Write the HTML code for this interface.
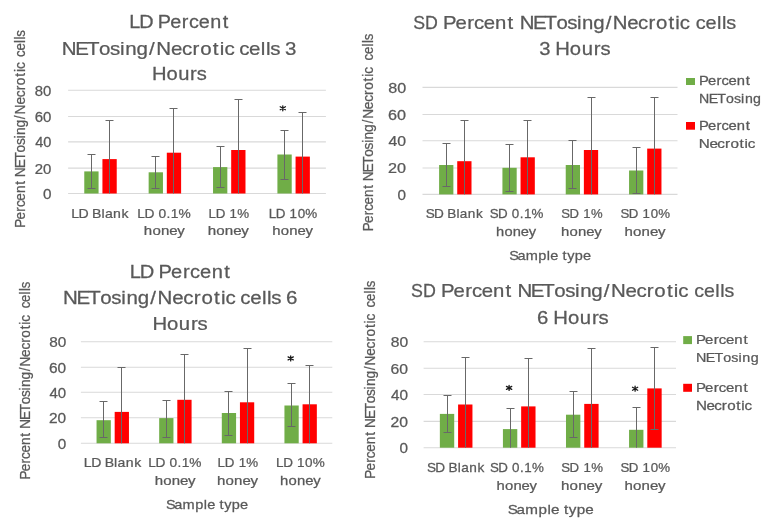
<!DOCTYPE html>
<html><head><meta charset="utf-8"><style>
html,body{margin:0;padding:0;background:#fff;}
body{width:772px;height:528px;overflow:hidden;}
svg{display:block;filter:blur(0.4px);font-family:"Liberation Sans",sans-serif;font-kerning:none;}
</style></head><body>
<svg width="772" height="528" viewBox="0 0 772 528">
<style>text{stroke:#595959;stroke-width:0.25px;}</style>
<rect width="772" height="528" fill="#fff"/>
<line x1="68.10" y1="90.30" x2="325.90" y2="90.30" stroke="#d9d9d9" stroke-width="1.1"/>
<line x1="68.10" y1="116.50" x2="325.90" y2="116.50" stroke="#d9d9d9" stroke-width="1.1"/>
<line x1="68.10" y1="141.90" x2="325.90" y2="141.90" stroke="#d9d9d9" stroke-width="1.1"/>
<line x1="68.10" y1="168.10" x2="325.90" y2="168.10" stroke="#d9d9d9" stroke-width="1.1"/>
<line x1="68.10" y1="193.50" x2="325.90" y2="193.50" stroke="#d9d9d9" stroke-width="1.1"/>
<text transform="translate(34.85 95.70) scale(1.0766 1)" x="0.00 7.67" y="0" font-size="13.8" fill="#595959">80</text>
<text transform="translate(34.74 121.90) scale(1.0843 1)" x="0.00 7.67" y="0" font-size="13.8" fill="#595959">60</text>
<text transform="translate(35.17 147.30) scale(1.0556 1)" x="0.00 7.67" y="0" font-size="13.8" fill="#595959">40</text>
<text transform="translate(34.75 173.50) scale(1.0838 1)" x="0.00 7.67" y="0" font-size="13.8" fill="#595959">20</text>
<text transform="translate(42.90 198.90) scale(1.1066 1)" x="0.00" y="0" font-size="13.8" fill="#595959">0</text>
<rect x="84.27" y="171.40" width="14.30" height="22.10" fill="#70ad47"/>
<rect x="102.43" y="159.10" width="14.30" height="34.40" fill="#ff0000"/>
<line x1="91.50" y1="154.50" x2="91.50" y2="188.80" stroke="#686868" stroke-width="1.0"/>
<line x1="87.50" y1="154.50" x2="95.50" y2="154.50" stroke="#686868" stroke-width="1.0"/>
<line x1="87.50" y1="188.50" x2="95.50" y2="188.50" stroke="#686868" stroke-width="1.0"/>
<line x1="109.50" y1="120.50" x2="109.50" y2="193.50" stroke="#686868" stroke-width="1.0"/>
<line x1="105.50" y1="120.50" x2="113.50" y2="120.50" stroke="#686868" stroke-width="1.0"/>
<rect x="148.65" y="172.30" width="14.30" height="21.20" fill="#70ad47"/>
<rect x="166.81" y="152.70" width="14.30" height="40.80" fill="#ff0000"/>
<line x1="155.50" y1="156.50" x2="155.50" y2="188.30" stroke="#686868" stroke-width="1.0"/>
<line x1="151.50" y1="156.50" x2="159.50" y2="156.50" stroke="#686868" stroke-width="1.0"/>
<line x1="151.50" y1="188.50" x2="159.50" y2="188.50" stroke="#686868" stroke-width="1.0"/>
<line x1="173.50" y1="108.50" x2="173.50" y2="193.50" stroke="#686868" stroke-width="1.0"/>
<line x1="169.50" y1="108.50" x2="177.50" y2="108.50" stroke="#686868" stroke-width="1.0"/>
<rect x="213.03" y="167.10" width="14.30" height="26.40" fill="#70ad47"/>
<rect x="231.19" y="150.00" width="14.30" height="43.50" fill="#ff0000"/>
<line x1="220.50" y1="146.50" x2="220.50" y2="187.90" stroke="#686868" stroke-width="1.0"/>
<line x1="216.50" y1="146.50" x2="224.50" y2="146.50" stroke="#686868" stroke-width="1.0"/>
<line x1="216.50" y1="187.50" x2="224.50" y2="187.50" stroke="#686868" stroke-width="1.0"/>
<line x1="238.50" y1="99.50" x2="238.50" y2="193.50" stroke="#686868" stroke-width="1.0"/>
<line x1="234.50" y1="99.50" x2="242.50" y2="99.50" stroke="#686868" stroke-width="1.0"/>
<rect x="277.41" y="154.50" width="14.30" height="39.00" fill="#70ad47"/>
<rect x="295.57" y="156.60" width="14.30" height="36.90" fill="#ff0000"/>
<line x1="284.50" y1="130.50" x2="284.50" y2="179.30" stroke="#686868" stroke-width="1.0"/>
<line x1="280.50" y1="130.50" x2="288.50" y2="130.50" stroke="#686868" stroke-width="1.0"/>
<line x1="280.50" y1="179.50" x2="288.50" y2="179.50" stroke="#686868" stroke-width="1.0"/>
<line x1="302.50" y1="112.50" x2="302.50" y2="193.50" stroke="#686868" stroke-width="1.0"/>
<line x1="298.50" y1="112.50" x2="306.50" y2="112.50" stroke="#686868" stroke-width="1.0"/>
<line x1="422.50" y1="87.35" x2="677.50" y2="87.35" stroke="#d9d9d9" stroke-width="1.1"/>
<line x1="422.50" y1="114.50" x2="677.50" y2="114.50" stroke="#d9d9d9" stroke-width="1.1"/>
<line x1="422.50" y1="140.80" x2="677.50" y2="140.80" stroke="#d9d9d9" stroke-width="1.1"/>
<line x1="422.50" y1="168.00" x2="677.50" y2="168.00" stroke="#d9d9d9" stroke-width="1.1"/>
<line x1="422.50" y1="194.40" x2="677.50" y2="194.40" stroke="#d9d9d9" stroke-width="1.1"/>
<text transform="translate(388.20 92.75) scale(1.1681 1)" x="0.00 7.67" y="0" font-size="13.8" fill="#595959">80</text>
<text transform="translate(388.08 119.90) scale(1.1765 1)" x="0.00 7.67" y="0" font-size="13.8" fill="#595959">60</text>
<text transform="translate(388.54 146.20) scale(1.1453 1)" x="0.00 7.67" y="0" font-size="13.8" fill="#595959">40</text>
<text transform="translate(388.08 173.40) scale(1.1759 1)" x="0.00 7.67" y="0" font-size="13.8" fill="#595959">20</text>
<text transform="translate(397.60 199.80) scale(1.1066 1)" x="0.00" y="0" font-size="13.8" fill="#595959">0</text>
<rect x="439.10" y="165.00" width="14.27" height="29.40" fill="#70ad47"/>
<rect x="457.23" y="161.20" width="14.27" height="33.20" fill="#ff0000"/>
<line x1="446.50" y1="143.50" x2="446.50" y2="186.20" stroke="#686868" stroke-width="1.0"/>
<line x1="442.50" y1="143.50" x2="450.50" y2="143.50" stroke="#686868" stroke-width="1.0"/>
<line x1="442.50" y1="186.50" x2="450.50" y2="186.50" stroke="#686868" stroke-width="1.0"/>
<line x1="464.50" y1="120.50" x2="464.50" y2="194.40" stroke="#686868" stroke-width="1.0"/>
<line x1="460.50" y1="120.50" x2="468.50" y2="120.50" stroke="#686868" stroke-width="1.0"/>
<rect x="502.42" y="167.80" width="14.27" height="26.60" fill="#70ad47"/>
<rect x="520.55" y="157.30" width="14.27" height="37.10" fill="#ff0000"/>
<line x1="509.50" y1="144.50" x2="509.50" y2="191.70" stroke="#686868" stroke-width="1.0"/>
<line x1="505.50" y1="144.50" x2="513.50" y2="144.50" stroke="#686868" stroke-width="1.0"/>
<line x1="505.50" y1="191.50" x2="513.50" y2="191.50" stroke="#686868" stroke-width="1.0"/>
<line x1="527.50" y1="120.50" x2="527.50" y2="194.40" stroke="#686868" stroke-width="1.0"/>
<line x1="523.50" y1="120.50" x2="531.50" y2="120.50" stroke="#686868" stroke-width="1.0"/>
<rect x="565.74" y="165.00" width="14.27" height="29.40" fill="#70ad47"/>
<rect x="583.87" y="150.00" width="14.27" height="44.40" fill="#ff0000"/>
<line x1="572.50" y1="140.50" x2="572.50" y2="188.40" stroke="#686868" stroke-width="1.0"/>
<line x1="568.50" y1="140.50" x2="576.50" y2="140.50" stroke="#686868" stroke-width="1.0"/>
<line x1="568.50" y1="188.50" x2="576.50" y2="188.50" stroke="#686868" stroke-width="1.0"/>
<line x1="591.50" y1="97.50" x2="591.50" y2="194.40" stroke="#686868" stroke-width="1.0"/>
<line x1="587.50" y1="97.50" x2="595.50" y2="97.50" stroke="#686868" stroke-width="1.0"/>
<rect x="629.06" y="170.50" width="14.27" height="23.90" fill="#70ad47"/>
<rect x="647.19" y="148.60" width="14.27" height="45.80" fill="#ff0000"/>
<line x1="636.50" y1="147.50" x2="636.50" y2="193.50" stroke="#686868" stroke-width="1.0"/>
<line x1="632.50" y1="147.50" x2="640.50" y2="147.50" stroke="#686868" stroke-width="1.0"/>
<line x1="632.50" y1="193.50" x2="640.50" y2="193.50" stroke="#686868" stroke-width="1.0"/>
<line x1="654.50" y1="97.50" x2="654.50" y2="194.40" stroke="#686868" stroke-width="1.0"/>
<line x1="650.50" y1="97.50" x2="658.50" y2="97.50" stroke="#686868" stroke-width="1.0"/>
<line x1="80.90" y1="341.80" x2="332.30" y2="341.80" stroke="#d9d9d9" stroke-width="1.1"/>
<line x1="80.90" y1="367.20" x2="332.30" y2="367.20" stroke="#d9d9d9" stroke-width="1.1"/>
<line x1="80.90" y1="392.30" x2="332.30" y2="392.30" stroke="#d9d9d9" stroke-width="1.1"/>
<line x1="80.90" y1="417.80" x2="332.30" y2="417.80" stroke="#d9d9d9" stroke-width="1.1"/>
<line x1="80.90" y1="443.30" x2="332.30" y2="443.30" stroke="#d9d9d9" stroke-width="1.1"/>
<text transform="translate(49.13 347.20) scale(1.1118 1)" x="0.00 7.67" y="0" font-size="13.8" fill="#595959">80</text>
<text transform="translate(49.02 372.60) scale(1.1198 1)" x="0.00 7.67" y="0" font-size="13.8" fill="#595959">60</text>
<text transform="translate(49.45 397.70) scale(1.0901 1)" x="0.00 7.67" y="0" font-size="13.8" fill="#595959">40</text>
<text transform="translate(49.02 423.20) scale(1.1192 1)" x="0.00 7.67" y="0" font-size="13.8" fill="#595959">20</text>
<text transform="translate(57.70 448.70) scale(1.1066 1)" x="0.00" y="0" font-size="13.8" fill="#595959">0</text>
<rect x="96.55" y="420.20" width="14.27" height="23.10" fill="#70ad47"/>
<rect x="114.68" y="411.90" width="14.27" height="31.40" fill="#ff0000"/>
<line x1="103.50" y1="401.50" x2="103.50" y2="437.30" stroke="#686868" stroke-width="1.0"/>
<line x1="99.50" y1="401.50" x2="107.50" y2="401.50" stroke="#686868" stroke-width="1.0"/>
<line x1="99.50" y1="437.50" x2="107.50" y2="437.50" stroke="#686868" stroke-width="1.0"/>
<line x1="121.50" y1="367.50" x2="121.50" y2="443.30" stroke="#686868" stroke-width="1.0"/>
<line x1="117.50" y1="367.50" x2="125.50" y2="367.50" stroke="#686868" stroke-width="1.0"/>
<rect x="159.18" y="418.10" width="14.27" height="25.20" fill="#70ad47"/>
<rect x="177.31" y="399.80" width="14.27" height="43.50" fill="#ff0000"/>
<line x1="166.50" y1="400.50" x2="166.50" y2="437.30" stroke="#686868" stroke-width="1.0"/>
<line x1="162.50" y1="400.50" x2="170.50" y2="400.50" stroke="#686868" stroke-width="1.0"/>
<line x1="162.50" y1="437.50" x2="170.50" y2="437.50" stroke="#686868" stroke-width="1.0"/>
<line x1="184.50" y1="354.50" x2="184.50" y2="443.30" stroke="#686868" stroke-width="1.0"/>
<line x1="180.50" y1="354.50" x2="188.50" y2="354.50" stroke="#686868" stroke-width="1.0"/>
<rect x="221.81" y="413.00" width="14.27" height="30.30" fill="#70ad47"/>
<rect x="239.94" y="402.30" width="14.27" height="41.00" fill="#ff0000"/>
<line x1="228.50" y1="391.50" x2="228.50" y2="435.00" stroke="#686868" stroke-width="1.0"/>
<line x1="224.50" y1="391.50" x2="232.50" y2="391.50" stroke="#686868" stroke-width="1.0"/>
<line x1="224.50" y1="435.50" x2="232.50" y2="435.50" stroke="#686868" stroke-width="1.0"/>
<line x1="247.50" y1="348.50" x2="247.50" y2="443.30" stroke="#686868" stroke-width="1.0"/>
<line x1="243.50" y1="348.50" x2="251.50" y2="348.50" stroke="#686868" stroke-width="1.0"/>
<rect x="284.44" y="405.50" width="14.27" height="37.80" fill="#70ad47"/>
<rect x="302.57" y="404.30" width="14.27" height="39.00" fill="#ff0000"/>
<line x1="291.50" y1="383.50" x2="291.50" y2="426.10" stroke="#686868" stroke-width="1.0"/>
<line x1="287.50" y1="383.50" x2="295.50" y2="383.50" stroke="#686868" stroke-width="1.0"/>
<line x1="287.50" y1="426.50" x2="295.50" y2="426.50" stroke="#686868" stroke-width="1.0"/>
<line x1="309.50" y1="365.50" x2="309.50" y2="443.30" stroke="#686868" stroke-width="1.0"/>
<line x1="305.50" y1="365.50" x2="313.50" y2="365.50" stroke="#686868" stroke-width="1.0"/>
<line x1="423.60" y1="341.70" x2="676.00" y2="341.70" stroke="#d9d9d9" stroke-width="1.1"/>
<line x1="423.60" y1="368.30" x2="676.00" y2="368.30" stroke="#d9d9d9" stroke-width="1.1"/>
<line x1="423.60" y1="394.50" x2="676.00" y2="394.50" stroke="#d9d9d9" stroke-width="1.1"/>
<line x1="423.60" y1="421.40" x2="676.00" y2="421.40" stroke="#d9d9d9" stroke-width="1.1"/>
<line x1="423.60" y1="447.70" x2="676.00" y2="447.70" stroke="#d9d9d9" stroke-width="1.1"/>
<text transform="translate(390.72 347.10) scale(1.1329 1)" x="0.00 7.67" y="0" font-size="13.8" fill="#595959">80</text>
<text transform="translate(390.60 373.70) scale(1.1410 1)" x="0.00 7.67" y="0" font-size="13.8" fill="#595959">60</text>
<text transform="translate(391.05 399.90) scale(1.1108 1)" x="0.00 7.67" y="0" font-size="13.8" fill="#595959">40</text>
<text transform="translate(390.61 426.80) scale(1.1405 1)" x="0.00 7.67" y="0" font-size="13.8" fill="#595959">20</text>
<text transform="translate(399.60 453.10) scale(1.1066 1)" x="0.00" y="0" font-size="13.8" fill="#595959">0</text>
<rect x="439.85" y="413.90" width="14.36" height="33.80" fill="#70ad47"/>
<rect x="458.09" y="404.50" width="14.36" height="43.20" fill="#ff0000"/>
<line x1="447.50" y1="395.50" x2="447.50" y2="432.70" stroke="#686868" stroke-width="1.0"/>
<line x1="443.50" y1="395.50" x2="451.50" y2="395.50" stroke="#686868" stroke-width="1.0"/>
<line x1="443.50" y1="432.50" x2="451.50" y2="432.50" stroke="#686868" stroke-width="1.0"/>
<line x1="465.50" y1="357.50" x2="465.50" y2="447.70" stroke="#686868" stroke-width="1.0"/>
<line x1="461.50" y1="357.50" x2="469.50" y2="357.50" stroke="#686868" stroke-width="1.0"/>
<rect x="502.92" y="429.10" width="14.36" height="18.60" fill="#70ad47"/>
<rect x="521.16" y="406.40" width="14.36" height="41.30" fill="#ff0000"/>
<line x1="510.50" y1="408.50" x2="510.50" y2="447.70" stroke="#686868" stroke-width="1.0"/>
<line x1="506.50" y1="408.50" x2="514.50" y2="408.50" stroke="#686868" stroke-width="1.0"/>
<line x1="528.50" y1="358.50" x2="528.50" y2="447.70" stroke="#686868" stroke-width="1.0"/>
<line x1="524.50" y1="358.50" x2="532.50" y2="358.50" stroke="#686868" stroke-width="1.0"/>
<rect x="565.99" y="414.70" width="14.36" height="33.00" fill="#70ad47"/>
<rect x="584.23" y="403.90" width="14.36" height="43.80" fill="#ff0000"/>
<line x1="573.50" y1="391.50" x2="573.50" y2="437.40" stroke="#686868" stroke-width="1.0"/>
<line x1="569.50" y1="391.50" x2="577.50" y2="391.50" stroke="#686868" stroke-width="1.0"/>
<line x1="569.50" y1="437.50" x2="577.50" y2="437.50" stroke="#686868" stroke-width="1.0"/>
<line x1="591.50" y1="348.50" x2="591.50" y2="447.70" stroke="#686868" stroke-width="1.0"/>
<line x1="587.50" y1="348.50" x2="595.50" y2="348.50" stroke="#686868" stroke-width="1.0"/>
<rect x="629.06" y="429.80" width="14.36" height="17.90" fill="#70ad47"/>
<rect x="647.30" y="388.40" width="14.36" height="59.30" fill="#ff0000"/>
<line x1="636.50" y1="407.50" x2="636.50" y2="447.70" stroke="#686868" stroke-width="1.0"/>
<line x1="632.50" y1="407.50" x2="640.50" y2="407.50" stroke="#686868" stroke-width="1.0"/>
<line x1="654.50" y1="347.50" x2="654.50" y2="429.00" stroke="#686868" stroke-width="1.0"/>
<line x1="650.50" y1="347.50" x2="658.50" y2="347.50" stroke="#686868" stroke-width="1.0"/>
<line x1="650.50" y1="429.50" x2="658.50" y2="429.50" stroke="#686868" stroke-width="1.0"/>
<text transform="translate(129.27 28.30) scale(1.1321 1)" x="0.00 8.84 21.08 25.06 36.11 46.47 52.67 61.32 71.49 82.47" y="0" font-size="17.5" fill="#595959">LD Percent</text>
<text transform="translate(61.82 54.80) scale(1.1710 1)" x="0.00 11.50 21.47 31.80 41.22 49.68 54.09 63.77 74.53 80.67 93.23 102.67 111.62 118.18 128.99 134.96 138.87 147.12 151.48 159.93 169.92 174.38 177.98 185.92 190.60" y="0" font-size="17.5" fill="#595959">NETosing/Necrotic cells 3</text>
<text transform="translate(151.95 79.70) scale(1.1515 1)" x="0.00 12.57 22.74 33.14 38.83" y="0" font-size="17.5" fill="#595959">Hours</text>
<text transform="translate(25.00 227.71) rotate(-90) scale(0.9644 1)" x="0.00 8.56 16.61 21.37 28.04 35.89 44.44" y="0" font-size="14.0" fill="#595959">Percent</text>
<text transform="translate(25.00 177.23) rotate(-90) scale(0.9834 1)" x="0.00 9.11 17.02 25.21 32.67 39.39 42.86 50.53 59.08 63.91 73.87 81.35 88.46 93.64 102.22 106.96 110.04" y="0" font-size="14.0" fill="#595959">NETosing/Necrotic</text>
<text transform="translate(25.00 57.06) rotate(-90) scale(0.9465 1)" x="0.00 6.89 14.98 18.61 21.57" y="0" font-size="14.0" fill="#595959">cells</text>
<text transform="translate(71.14 217.70) scale(1.0919 1)" x="0.00 6.69 15.85 19.11 27.77 30.93 38.45 46.15" y="0" font-size="12.9" fill="#595959">LD Blank</text>
<text transform="translate(137.17 217.70) scale(1.0674 1)" x="0.00 6.83 16.12 19.91 27.50 31.50 38.67" y="0" font-size="12.9" fill="#595959">LD 0.1%</text>
<text transform="translate(143.86 235.30) scale(1.1651 1)" x="0.00 7.32 14.64 21.75 28.72" y="0" font-size="12.9" fill="#595959">honey</text>
<text transform="translate(208.50 217.70) scale(1.0352 1)" x="0.00 7.00 16.43 20.35 27.72" y="0" font-size="12.9" fill="#595959">LD 1%</text>
<text transform="translate(207.65 235.30) scale(1.1739 1)" x="0.00 7.32 14.64 21.75 28.72" y="0" font-size="12.9" fill="#595959">honey</text>
<text transform="translate(268.70 217.70) scale(1.0403 1)" x="0.00 6.88 16.20 20.03 27.81 35.04" y="0" font-size="12.9" fill="#595959">LD 10%</text>
<text transform="translate(272.37 235.30) scale(1.1563 1)" x="0.00 7.32 14.64 21.75 28.72" y="0" font-size="12.9" fill="#595959">honey</text>
<path d="M282.80 105.80L282.80 110.80M280.20 106.80L285.40 109.80M280.20 109.80L285.40 106.80" stroke="#1a1a1a" stroke-width="1.3" stroke-linecap="round" fill="none"/>
<text transform="translate(413.19 28.80) scale(1.0142 1)" x="0.00 11.67" y="0" font-size="17.5" fill="#595959">SD</text>
<text transform="translate(443.03 28.80) scale(1.1607 1)" x="0.00 10.70 20.77 26.71 35.05 44.86 55.55" y="0" font-size="17.5" fill="#595959">Percent</text>
<text transform="translate(519.73 28.80) scale(1.1642 1)" x="0.00 11.39 21.27 31.51 40.84 49.24 53.58 63.16 73.85 79.89 92.34 101.69 110.57 117.05 127.78 133.70 137.54" y="0" font-size="17.5" fill="#595959">NETosing/Necrotic</text>
<text transform="translate(695.76 28.80) scale(1.1329 1)" x="0.00 8.61 18.72 23.26 26.96" y="0" font-size="17.5" fill="#595959">cells</text>
<text transform="translate(539.13 54.70) scale(1.1558 1)" x="0.00 9.57 13.94 26.59 36.83 47.29 53.03" y="0" font-size="17.5" fill="#595959">3 Hours</text>
<text transform="translate(372.60 231.20) rotate(-90) scale(0.9559 1)" x="0.00 8.56 16.61 21.37 28.04 35.89 44.44" y="0" font-size="14.0" fill="#595959">Percent</text>
<text transform="translate(372.60 181.32) rotate(-90) scale(0.9773 1)" x="0.00 9.11 17.02 25.21 32.67 39.39 42.86 50.53 59.08 63.91 73.87 81.35 88.46 93.64 102.22 106.96 110.04" y="0" font-size="14.0" fill="#595959">NETosing/Necrotic</text>
<text transform="translate(372.60 60.46) rotate(-90) scale(0.9393 1)" x="0.00 6.89 14.98 18.61 21.57" y="0" font-size="14.0" fill="#595959">cells</text>
<text transform="translate(425.68 218.10) scale(1.0525 1)" x="0.00 7.82 17.09 20.44 29.19 32.43 40.07 47.89" y="0" font-size="12.9" fill="#595959">SD Blank</text>
<text transform="translate(489.79 218.10) scale(1.0356 1)" x="0.00 7.98 17.37 21.26 28.95 33.04 40.37" y="0" font-size="12.9" fill="#595959">SD 0.1%</text>
<text transform="translate(496.08 235.80) scale(1.1388 1)" x="0.00 7.32 14.64 21.75 28.72" y="0" font-size="12.9" fill="#595959">honey</text>
<text transform="translate(561.21 218.10) scale(1.0152 1)" x="0.00 8.20 17.76 21.80 29.37" y="0" font-size="12.9" fill="#595959">SD 1%</text>
<text transform="translate(561.07 235.80) scale(1.1563 1)" x="0.00 7.32 14.64 21.75 28.72" y="0" font-size="12.9" fill="#595959">honey</text>
<text transform="translate(620.60 218.10) scale(1.0288 1)" x="0.00 8.04 17.48 21.41 29.33 36.72" y="0" font-size="12.9" fill="#595959">SD 10%</text>
<text transform="translate(624.56 235.80) scale(1.1651 1)" x="0.00 7.32 14.64 21.75 28.72" y="0" font-size="12.9" fill="#595959">honey</text>
<text transform="translate(509.14 259.90) scale(1.1256 1)" x="0.00 7.41 14.74 25.97 33.51 36.55 43.50 47.51 51.69 58.29 65.59" y="0" font-size="12.9" fill="#595959">Sample type</text>
<rect x="686.00" y="78.00" width="9.00" height="7.00" fill="#70ad47"/>
<rect x="686.00" y="122.00" width="9.00" height="7.70" fill="#ff0000"/>
<text transform="translate(698.89 84.60) scale(1.2115 1)" x="0.00 7.46 14.48 18.62 24.43 31.27 38.72" y="0" font-size="12.2" fill="#595959">Percent</text>
<text transform="translate(698.94 103.30) scale(1.1620 1)" x="0.00 8.40 15.68 23.24 30.11 36.22 39.55 46.64" y="0" font-size="12.2" fill="#595959">NETosing</text>
<text transform="translate(698.89 129.70) scale(1.2115 1)" x="0.00 7.46 14.48 18.62 24.43 31.27 38.72" y="0" font-size="12.2" fill="#595959">Percent</text>
<text transform="translate(698.85 147.60) scale(1.2504 1)" x="0.00 8.47 14.82 20.87 25.22 32.55 36.57 39.13" y="0" font-size="12.2" fill="#595959">Necrotic</text>
<text transform="translate(129.65 278.40) scale(1.1472 1)" x="0.00 8.84 21.08 25.06 36.11 46.47 52.67 61.32 71.49 82.47" y="0" font-size="17.5" fill="#595959">LD Percent</text>
<text transform="translate(63.12 304.20) scale(1.1699 1)" x="0.00 11.50 21.47 31.80 41.22 49.68 54.09 63.77 74.53 80.67 93.23 102.67 111.62 118.18 128.99 134.96 138.87 147.12 151.48 159.93 169.92 174.38 177.98 185.92 190.60" y="0" font-size="17.5" fill="#595959">NETosing/Necrotic cells 6</text>
<text transform="translate(152.43 329.70) scale(1.1602 1)" x="0.00 12.57 22.74 33.14 38.83" y="0" font-size="17.5" fill="#595959">Hours</text>
<text transform="translate(30.40 479.61) rotate(-90) scale(0.9644 1)" x="0.00 8.56 16.61 21.37 28.04 35.89 44.44" y="0" font-size="14.0" fill="#595959">Percent</text>
<text transform="translate(30.40 428.82) rotate(-90) scale(0.9739 1)" x="0.00 9.11 17.02 25.21 32.67 39.39 42.86 50.53 59.08 63.91 73.87 81.35 88.46 93.64 102.22 106.96 110.04" y="0" font-size="14.0" fill="#595959">NETosing/Necrotic</text>
<text transform="translate(30.40 308.35) rotate(-90) scale(0.9320 1)" x="0.00 6.89 14.98 18.61 21.57" y="0" font-size="14.0" fill="#595959">cells</text>
<text transform="translate(83.85 467.10) scale(1.0899 1)" x="0.00 6.69 15.85 19.11 27.77 30.93 38.45 46.15" y="0" font-size="12.9" fill="#595959">LD Blank</text>
<text transform="translate(148.28 467.10) scale(1.0612 1)" x="0.00 6.83 16.12 19.91 27.50 31.50 38.67" y="0" font-size="12.9" fill="#595959">LD 0.1%</text>
<text transform="translate(154.66 485.30) scale(1.1651 1)" x="0.00 7.32 14.64 21.75 28.72" y="0" font-size="12.9" fill="#595959">honey</text>
<text transform="translate(217.60 467.10) scale(1.0352 1)" x="0.00 7.00 16.43 20.35 27.72" y="0" font-size="12.9" fill="#595959">LD 1%</text>
<text transform="translate(217.06 485.30) scale(1.1651 1)" x="0.00 7.32 14.64 21.75 28.72" y="0" font-size="12.9" fill="#595959">honey</text>
<text transform="translate(275.99 467.10) scale(1.0469 1)" x="0.00 6.88 16.20 20.03 27.81 35.04" y="0" font-size="12.9" fill="#595959">LD 10%</text>
<text transform="translate(280.07 485.30) scale(1.1534 1)" x="0.00 7.32 14.64 21.75 28.72" y="0" font-size="12.9" fill="#595959">honey</text>
<text transform="translate(165.94 508.50) scale(1.1298 1)" x="0.00 7.41 14.74 25.97 33.51 36.55 43.50 47.51 51.69 58.29 65.59" y="0" font-size="12.9" fill="#595959">Sample type</text>
<path d="M290.70 355.90L290.70 360.90M288.10 356.90L293.30 359.90M288.10 359.90L293.30 356.90" stroke="#1a1a1a" stroke-width="1.3" stroke-linecap="round" fill="none"/>
<text transform="translate(411.09 297.00) scale(1.0186 1)" x="0.00 11.67" y="0" font-size="17.5" fill="#595959">SD</text>
<text transform="translate(441.03 297.00) scale(1.1607 1)" x="0.00 10.70 20.77 26.71 35.05 44.86 55.55" y="0" font-size="17.5" fill="#595959">Percent</text>
<text transform="translate(517.52 297.00) scale(1.1690 1)" x="0.00 11.39 21.27 31.51 40.84 49.24 53.58 63.16 73.85 79.89 92.34 101.69 110.57 117.05 127.78 133.70 137.54" y="0" font-size="17.5" fill="#595959">NETosing/Necrotic</text>
<text transform="translate(694.27 297.00) scale(1.1184 1)" x="0.00 8.61 18.72 23.26 26.96" y="0" font-size="17.5" fill="#595959">cells</text>
<text transform="translate(537.07 323.70) scale(1.1600 1)" x="0.00 9.57 13.94 26.59 36.83 47.29 53.03" y="0" font-size="17.5" fill="#595959">6 Hours</text>
<text transform="translate(375.20 478.81) rotate(-90) scale(0.9665 1)" x="0.00 8.56 16.61 21.37 28.04 35.89 44.44" y="0" font-size="14.0" fill="#595959">Percent</text>
<text transform="translate(375.20 427.92) rotate(-90) scale(0.9765 1)" x="0.00 9.11 17.02 25.21 32.67 39.39 42.86 50.53 59.08 63.91 73.87 81.35 88.46 93.64 102.22 106.96 110.04" y="0" font-size="14.0" fill="#595959">NETosing/Necrotic</text>
<text transform="translate(375.20 307.46) rotate(-90) scale(0.9393 1)" x="0.00 6.89 14.98 18.61 21.57" y="0" font-size="14.0" fill="#595959">cells</text>
<text transform="translate(426.98 472.10) scale(1.0562 1)" x="0.00 7.82 17.09 20.44 29.19 32.43 40.07 47.89" y="0" font-size="12.9" fill="#595959">SD Blank</text>
<text transform="translate(490.09 472.10) scale(1.0356 1)" x="0.00 7.98 17.37 21.26 28.95 33.04 40.37" y="0" font-size="12.9" fill="#595959">SD 0.1%</text>
<text transform="translate(496.57 489.50) scale(1.1505 1)" x="0.00 7.32 14.64 21.75 28.72" y="0" font-size="12.9" fill="#595959">honey</text>
<text transform="translate(561.20 472.10) scale(1.0252 1)" x="0.00 8.20 17.76 21.80 29.37" y="0" font-size="12.9" fill="#595959">SD 1%</text>
<text transform="translate(561.05 489.50) scale(1.1709 1)" x="0.00 7.32 14.64 21.75 28.72" y="0" font-size="12.9" fill="#595959">honey</text>
<text transform="translate(620.50 472.10) scale(1.0309 1)" x="0.00 8.04 17.48 21.41 29.33 36.72" y="0" font-size="12.9" fill="#595959">SD 10%</text>
<text transform="translate(624.56 489.50) scale(1.1651 1)" x="0.00 7.32 14.64 21.75 28.72" y="0" font-size="12.9" fill="#595959">honey</text>
<text transform="translate(507.81 514.40) scale(1.1814 1)" x="0.00 7.41 14.74 25.97 33.51 36.55 43.50 47.51 51.69 58.29 65.59" y="0" font-size="12.9" fill="#595959">Sample type</text>
<rect x="683.20" y="336.10" width="8.80" height="8.00" fill="#70ad47"/>
<rect x="683.20" y="383.80" width="8.80" height="8.00" fill="#ff0000"/>
<text transform="translate(695.97 343.80) scale(1.2261 1)" x="0.00 7.46 14.48 18.62 24.43 31.27 38.72" y="0" font-size="12.2" fill="#595959">Percent</text>
<text transform="translate(696.03 361.70) scale(1.1717 1)" x="0.00 8.40 15.68 23.24 30.11 36.22 39.55 46.64" y="0" font-size="12.2" fill="#595959">NETosing</text>
<text transform="translate(695.97 391.50) scale(1.2261 1)" x="0.00 7.46 14.48 18.62 24.43 31.27 38.72" y="0" font-size="12.2" fill="#595959">Percent</text>
<text transform="translate(695.96 410.20) scale(1.2413 1)" x="0.00 8.47 14.82 20.87 25.22 32.55 36.57 39.13" y="0" font-size="12.2" fill="#595959">Necrotic</text>
<path d="M509.10 385.40L509.10 390.40M506.50 386.40L511.70 389.40M506.50 389.40L511.70 386.40" stroke="#1a1a1a" stroke-width="1.3" stroke-linecap="round" fill="none"/>
<path d="M635.10 386.20L635.10 391.20M632.50 387.20L637.70 390.20M632.50 390.20L637.70 387.20" stroke="#1a1a1a" stroke-width="1.3" stroke-linecap="round" fill="none"/>
</svg>
</body></html>
